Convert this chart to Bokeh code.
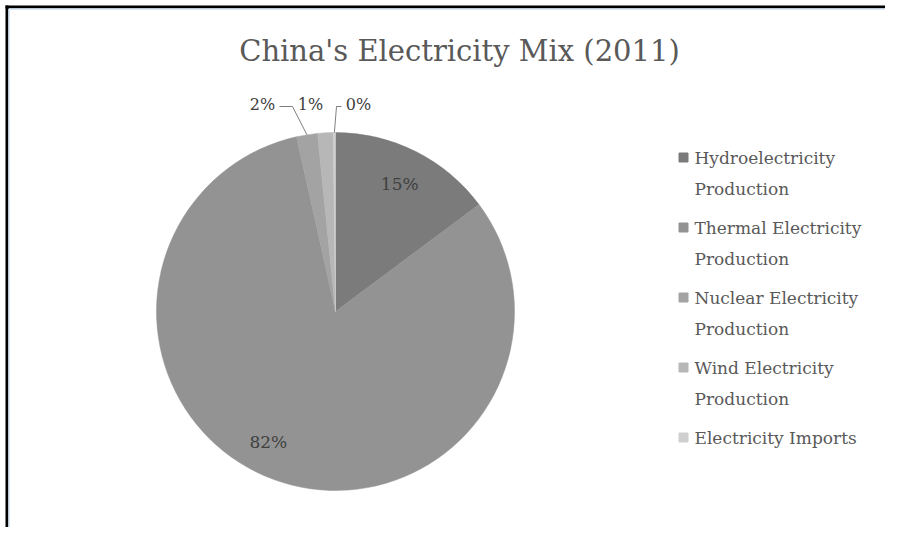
import math
from bokeh.plotting import figure
from bokeh.models import Range1d, ColumnDataSource
from bokeh.core.properties import value
from bokeh.embed import file_html
from bokeh.resources import INLINE

# ---- data ----
categories = ["Hydroelectricity Production", "Thermal Electricity Production",
              "Nuclear Electricity Production", "Wind Electricity Production",
              "Electricity Imports"]
legend_labels = ["Hydroelectricity\nProduction", "Thermal Electricity\nProduction",
                 "Nuclear Electricity\nProduction", "Wind Electricity\nProduction",
                 "Electricity Imports"]
shares = [14.8, 81.7, 1.9, 1.4, 0.2]
colors = ["#7b7b7b", "#939393", "#a3a3a3", "#b7b7b7", "#cfcfcf"]
title_text = "China's Electricity Mix (2011)"

W, H = 885, 527
FONT = "DejaVu Serif"

p = figure(width=W, height=H, output_backend="svg", toolbar_location=None,
           x_range=Range1d(0, W), y_range=Range1d(0, H), min_border=0,
           background_fill_color="#ffffff", border_fill_color="#ffffff")
p.axis.visible = False
p.grid.visible = False
p.outline_line_color = None

# frame borders (top & left, as in the screenshot)
p.line([5, W], [H - 6.5, H - 6.5], line_color="black", line_width=3)
p.line([6.5, 6.5], [0, H - 5], line_color="black", line_width=3)
p.line([8.5, W], [H - 8.5, H - 8.5], line_color="#cfe0f0", line_width=1.5)
p.line([8.5, 8.5], [0, H - 8.5], line_color="#cfe0f0", line_width=1.5)

# title
p.text(x=[459], y=[H - 50], text=[title_text], text_font=value(FONT),
       text_font_size="29px", text_color="#595959", text_align="center",
       text_baseline="middle")

# pie
cx, cy, r = 335, H - 311, 179
total = sum(shares)
starts, ends, mids = [], [], []
cum = 0.0
for v in shares:
    a0 = math.pi / 2 - 2 * math.pi * cum / total
    cum += v
    a1 = math.pi / 2 - 2 * math.pi * cum / total
    starts.append(a0); ends.append(a1); mids.append((a0 + a1) / 2)
src = ColumnDataSource(dict(start=starts, end=ends, color=colors, cat=categories))
p.wedge(x=cx, y=cy, radius=r, start_angle="start", end_angle="end",
        direction="clock", fill_color="color", line_color="color", line_width=0.5,
        source=src)

pct = [f"{round(v / total * 100)}%" for v in shares]

# inside labels for big slices
fr = [0.8, 0.82]
adj = [0.0, -0.12]
for i in range(2):
    a = mids[i] + adj[i]
    lx = cx + fr[i] * r * math.cos(a)
    ly = cy + fr[i] * r * math.sin(a)
    p.text(x=[lx], y=[ly], text=[pct[i]], text_font=value(FONT),
           text_font_size="17px", text_color="#404040", text_align="center",
           text_baseline="middle")

# outside labels for the small slices with leader lines
ly = cy + r + 28
offs = [-73, -25, 23]
for k, i in enumerate(range(2, 5)):
    lx = cx + offs[k]
    p.text(x=[lx], y=[ly], text=[pct[i]], text_font=value(FONT),
           text_font_size="16px", text_color="#404040", text_align="center",
           text_baseline="middle")
ex = cx + r * math.cos(mids[2]); ey = cy + r * math.sin(mids[2])
p.line([cx + offs[0] + 17, cx + offs[0] + 30, ex], [ly - 2, ly - 2, ey],
       line_color="#7f7f7f", line_width=1)
ex = cx + r * math.cos(mids[4]); ey = cy + r * math.sin(mids[4])
p.line([cx + offs[2] - 17, cx + offs[2] - 22, ex], [ly - 2, ly - 2, ey],
       line_color="#7f7f7f", line_width=1)

# legend (manual)
lg_x, lg_y0, lg_dy = 683, H - 157, 70
for i, lab in enumerate(legend_labels):
    yy = lg_y0 - i * lg_dy
    p.rect(x=[lg_x], y=[yy], width=9, height=9, fill_color=colors[i],
           line_color=colors[i])
    p.text(x=[lg_x + 11], y=[yy + 10], text=[lab], text_font=value(FONT),
           text_font_size="17px", text_color="#595959", text_align="left",
           text_baseline="top", text_line_height=1.55)

open("out.html", "w").write(file_html(p, INLINE))
